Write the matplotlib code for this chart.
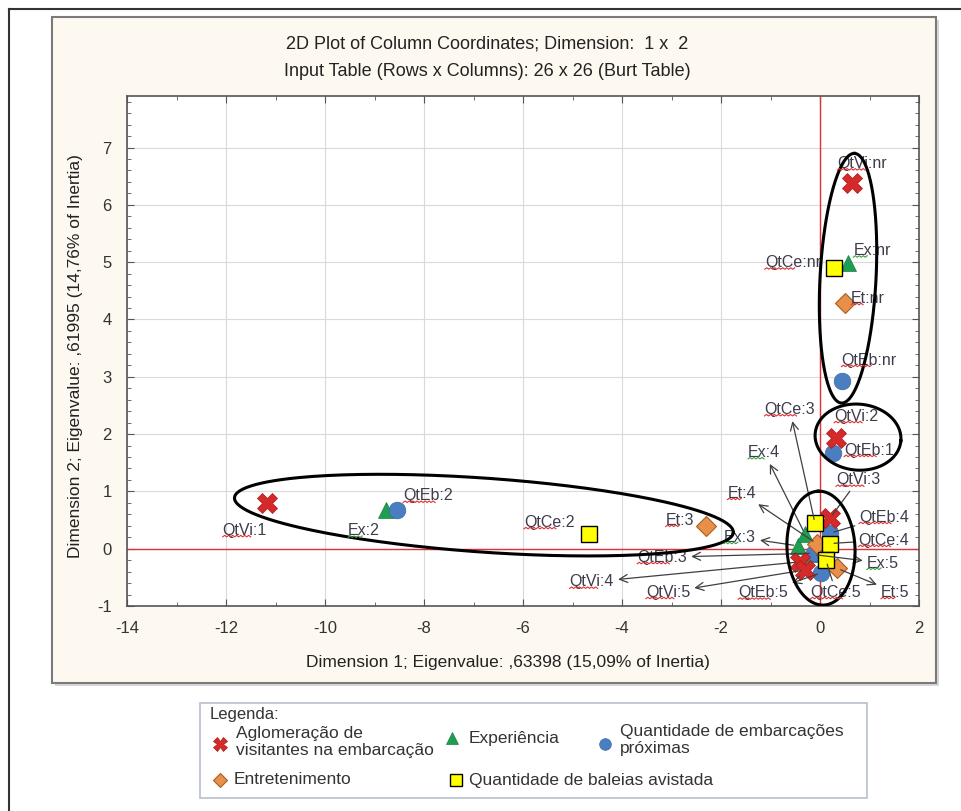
import numpy as np
import matplotlib
matplotlib.use("Agg")
import matplotlib.pyplot as plt
from matplotlib.patches import Rectangle
from matplotlib.lines import Line2D
from matplotlib.text import Text
from matplotlib.ticker import MultipleLocator
from matplotlib.transforms import IdentityTransform

plt.rcParams['font.family'] = ['Liberation Sans', 'DejaVu Sans']
plt.rcParams['axes.unicode_minus'] = False

# column coordinates (dimension 1, dimension 2) per variable
qtvi_labels = ["QtVi:1", "QtVi:2", "QtVi:3", "QtVi:4", "QtVi:5", "QtVi:nr"]
qtvi_dim1 = [-11.17, 0.32, 0.20, -0.40, -0.30, 0.65]
qtvi_dim2 = [0.79, 1.94, 0.53, -0.23, -0.37, 6.39]

ex_labels = ["Ex:2", "Ex:3", "Ex:4", "Ex:5", "Ex:nr"]
ex_dim1 = [-8.77, -0.45, -0.30, -0.15, 0.57]
ex_dim2 = [0.67, 0.05, 0.25, -0.10, 4.99]

qteb_labels = ["QtEb:1", "QtEb:2", "QtEb:3", "QtEb:4", "QtEb:5", "QtEb:nr"]
qteb_dim1 = [0.26, -8.55, -0.13, 0.20, 0.03, 0.44]
qteb_dim2 = [1.67, 0.67, -0.08, 0.27, -0.42, 2.92]

et_labels = ["Et:3", "Et:4", "Et:5", "Et:nr"]
et_dim1 = [-2.30, -0.07, 0.34, 0.50]
et_dim2 = [0.39, 0.09, -0.34, 4.29]

qtce_labels = ["QtCe:2", "QtCe:3", "QtCe:4", "QtCe:5", "QtCe:nr"]
qtce_dim1 = [-4.67, -0.10, 0.20, 0.12, 0.28]
qtce_dim2 = [0.25, 0.44, 0.09, -0.20, 4.89]

legend_names = [
    "Aglomeração de\nvisitantes na embarcação",
    "Experiência",
    "Quantidade de embarcações\npróximas",
    "Entretenimento",
    "Quantidade de baleias avistada",
]

title_lines = [
    "2D Plot of Column Coordinates; Dimension:  1 x  2",
    "Input Table (Rows x Columns): 26 x 26 (Burt Table)",
]
xlabel = "Dimension 1; Eigenvalue: ,63398 (15,09% of Inertia)"
ylabel = "Dimension 2; Eigenvalue: ,61995 (14,76% of Inertia)"

# where each point label sits, and how it is tied to its point
label_layout = {
    "QtVi:1": (-11.62, 0.32, None), "QtVi:nr": (0.85, 6.72, None),
    "QtVi:2": (0.73, 2.31, None), "QtVi:3": (0.77, 1.20, "-"),
    "QtVi:4": (-4.61, -0.58, "<-"), "QtVi:5": (-3.07, -0.76, "<-"),
    "Ex:2": (-9.21, 0.31, None), "Ex:nr": (1.05, 5.20, None),
    "Ex:3": (-1.62, 0.20, "<-"), "Ex:4": (-1.13, 1.68, "<-"),
    "Ex:5": (1.27, -0.25, "<-"),
    "QtEb:2": (-7.92, 0.92, None), "QtEb:nr": (0.99, 3.29, None),
    "QtEb:1": (0.99, 1.72, None), "QtEb:3": (-3.19, -0.15, "<-"),
    "QtEb:4": (1.29, 0.55, "-"), "QtEb:5": (-1.15, -0.77, "<-"),
    "Et:3": (-2.83, 0.50, None), "Et:nr": (0.97, 4.37, None),
    "Et:4": (-1.58, 0.97, "<-"), "Et:5": (1.52, -0.76, "<-"),
    "QtCe:2": (-5.47, 0.46, None), "QtCe:nr": (-0.55, 4.99, None),
    "QtCe:3": (-0.61, 2.43, "<-"), "QtCe:4": (1.29, 0.15, "-"),
    "QtCe:5": (0.32, -0.76, "-"),
}

# hand drawn groupings: centre (data), semi axes (px), angle (deg)
groups = [
    (-6.79, 0.586, 250, 37, -4),
    (0.566, 4.72, 125, 28, 87),
    (0.768, 1.947, 43, 33, -5),
    (0.02, 0.01, 57, 34, 93),
]

W, H = 962, 811
fig = plt.figure(figsize=(W / 100, H / 100), dpi=100)
fig.patch.set_facecolor("white")


def fx(px):
    return px / W


def fy(py):
    return 1 - py / H


# outer frame
fig.add_artist(Line2D([fx(9), fx(962)], [fy(9), fy(9)], color="#333333", lw=1.5))
fig.add_artist(Line2D([fx(9), fx(9)], [fy(9), fy(811)], color="#333333", lw=1.5))

# cream panel with shadow
fig.add_artist(Rectangle((fx(55), fy(686)), fx(884), 666 / H,
                         facecolor="#d8d8d8", edgecolor="none", zorder=-2))
fig.add_artist(Rectangle((fx(52), fy(683)), fx(884), 666 / H,
                         facecolor="#fdf9f0", edgecolor="#7a7a7a", lw=1.5, zorder=-1))

for i, line in enumerate(title_lines):
    fig.text(fx(487), fy(44 + 28 * i), line, ha="center", va="center",
             fontsize=13, color="#222222")

ax = fig.add_axes([fx(127), fy(606), (919 - 127) / W, (606 - 96) / H])
ax.set_facecolor("white")
ax.set_xlim(-14, 2)
ax.set_ylim(-1, 7.9)
ax.xaxis.set_major_locator(MultipleLocator(2))
ax.xaxis.set_minor_locator(MultipleLocator(1))
ax.yaxis.set_major_locator(MultipleLocator(1))
ax.yaxis.set_minor_locator(MultipleLocator(0.2))
ax.tick_params(which="both", direction="in", top=True, right=True,
               colors="#555555", labelcolor="#333333", labelsize=12)
ax.tick_params(which="major", length=5, pad=11)
ax.tick_params(which="minor", length=3)
for sp in ax.spines.values():
    sp.set_color("#555555")
    sp.set_linewidth(1.2)
ax.grid(True, which="major", color="#dadada", lw=0.8)
ax.set_axisbelow(True)
ax.axhline(0, color="#e0303a", lw=1, zorder=1.5)
ax.axvline(0, color="#e0303a", lw=1, zorder=1.5)

ax.set_xlabel(xlabel, fontsize=12.5, color="#222222")
ax.xaxis.set_label_coords((508 - 127) / 792, -(662 - 606) / 510)
ax.xaxis.label.set_va("center")
ax.set_ylabel(ylabel, fontsize=12.5, color="#222222")
ax.yaxis.set_label_coords(-(127 - 76) / 792, 0.49)
ax.yaxis.label.set_va("center")

series = [
    (ex_labels, ex_dim1, ex_dim2, dict(marker="^", color="#1e9e50", ms=12, mec="#168040", mew=0.5)),
    (qteb_labels, qteb_dim1, qteb_dim2, dict(marker="o", color="#4a7ec0", ms=12, mec="#3a6aa8", mew=0.5)),
    (et_labels, et_dim1, et_dim2, dict(marker="D", color="#e8904a", ms=10, mec="#a85e20", mew=0.8)),
    (qtvi_labels, qtvi_dim1, qtvi_dim2, dict(marker="X", color="#d42a2a", ms=14, mec="#b01818", mew=0.5)),
    (qtce_labels, qtce_dim1, qtce_dim2, dict(marker="s", color="#ffff00", ms=12, mec="black", mew=1)),
]

label_texts = []
for labels, d1, d2, style in series:
    ax.plot(d1, d2, ls="none", zorder=3, **style)
    for lbl, x, y in zip(labels, d1, d2):
        lx, ly, link = label_layout[lbl]
        if link is None:
            t = ax.text(lx, ly, lbl, ha="center", va="center",
                        fontsize=11.5, color="#3c3c4c", zorder=4)
        else:
            t = ax.annotate(lbl, xy=(x, y), xytext=(lx, ly), ha="center", va="center",
                            fontsize=11.5, color="#3c3c4c", zorder=4,
                            arrowprops=dict(arrowstyle=link + (",head_length=0.5,head_width=0.25" if link == "<-" else ""),
                                            color="#404040", lw=0.9, shrinkA=1, shrinkB=3))
        label_texts.append(t)

# grouping ellipses, drawn in screen space so they keep their shape
tt = np.linspace(0, 2 * np.pi, 240)
for cx, cy, a, b, ang in groups:
    c, s = np.cos(np.radians(ang)), np.sin(np.radians(ang))
    ox, oy = ax.transData.transform((cx, cy))
    dx = a * np.cos(tt) * c - b * np.sin(tt) * s
    dy = a * np.cos(tt) * s + b * np.sin(tt) * c
    pts = ax.transData.inverted().transform(np.column_stack([ox + dx, oy + dy]))
    ax.plot(pts[:, 0], pts[:, 1], color="black", lw=2.2, zorder=6)

# legend box
fig.add_artist(Rectangle((fx(200), fy(798)), fx(667), 95 / H,
                         facecolor="white", edgecolor="#b8c0cc", lw=1.2))
fig.text(fx(210), fy(714), "Legenda:", ha="left", va="center", fontsize=12, color="#333333")
legend_marks = [s[3] for s in series]
legend_items = [
    (legend_names[0], legend_marks[3], 220, 744, 236, 742),
    (legend_names[1], legend_marks[0], 452, 738, 469, 738),
    (legend_names[2], legend_marks[1], 605, 744, 620, 740),
    (legend_names[3], legend_marks[2], 220, 780, 234, 780),
    (legend_names[4], legend_marks[4], 456, 780, 469, 780),
]
for name, st, mx, my, tx, ty in legend_items:
    st = dict(st)
    st["ms"] = st["ms"] * 0.7
    fig.add_artist(Line2D([fx(mx)], [fy(my)], ls="none", **st))
    fig.text(fx(tx), fy(ty), name, ha="left", va="center", fontsize=12.5,
             color="#333333", linespacing=1.15)

# spell-check squiggles under the label prefixes
fig.canvas.draw()
renderer = fig.canvas.get_renderer()
for t in label_texts:
    txt = t.get_text()
    bb = Text.get_window_extent(t, renderer)
    frac = len(txt.split(":")[0]) / len(txt)
    xs = np.arange(bb.x0, bb.x0 + bb.width * frac, 2.0)
    ys = bb.y0 + 1 + (np.arange(len(xs)) % 2) * 1.5
    col = "#3aa040" if txt.startswith("Ex") else "#e03030"
    fig.add_artist(Line2D(xs, ys, color=col, lw=0.8, transform=IdentityTransform(), zorder=5))

fig.savefig("out.png", dpi=100)
